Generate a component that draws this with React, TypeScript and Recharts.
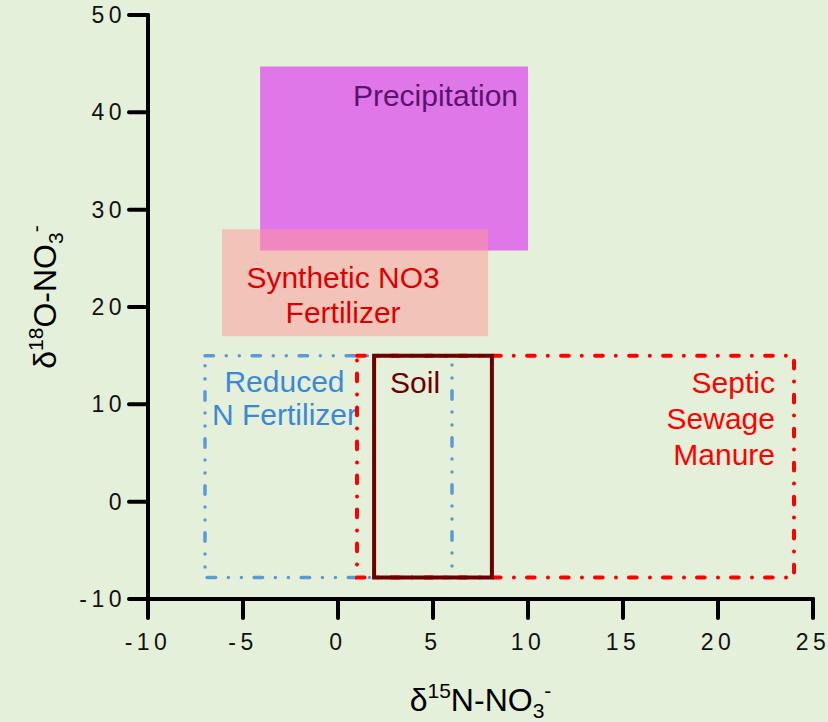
import { ScatterChart, XAxis, YAxis, ReferenceArea } from "recharts";

const sourceNames = ["Precipitation", "Synthetic NO3 Fertilizer", "Reduced N Fertilizer", "Soil", "Septic Sewage Manure"];
const labelLines = [
  ["Precipitation"],
  ["Synthetic NO3", "Fertilizer"],
  ["Reduced", "N Fertilizer"],
  ["Soil"],
  ["Septic", "Sewage", "Manure"],
];
const n15Min = [-4.1, -6.1, -7, 1.9, 1];
const n15Max = [10, 7.9, 6, 8.1, 24];
const o18Min = [25.8, 17, -7.8, -7.8, -7.8];
const o18Max = [44.7, 28, 15, 15, 15];

const xTicks = [-10, -5, 0, 5, 10, 15, 20, 25];
const yTicks = [-10, 0, 10, 20, 30, 40, 50];

const FONT = "'Liberation Sans', Arial, sans-serif";
const BG = "#e5f0da";

// drawing styles per source, same order as sourceNames
const STYLES = [
  { fill: "#e077e8", fillOpacity: 1, stroke: "none", text: "#5b1370", anchor: "end", dx: -10, dy: 39, gap: 36 },
  { fill: "#ff9898", fillOpacity: 0.5, stroke: "none", text: "#dd0000", anchor: "middle", dx: -12, dy: 59, gap: 35 },
  { fill: "none", stroke: "#5b9bd5", strokeWidth: 3.5, dash: "8.5 12.75 0.01 13 0.01 12.75", text: "#3d88d6", anchor: "middle", dx: -44, dy: 36, gap: 33.5 },
  { fill: "none", stroke: "#6b0000", strokeWidth: 4, dash: undefined, text: "#6b0000", anchor: "start", dx: 16, dy: 37.5, gap: 36 },
  { fill: "none", stroke: "#ff0000", strokeWidth: 4, dash: "7.7 13 0.01 13.3", text: "#ff0000", anchor: "end", dx: -19, dy: 37, gap: 36 },
];
// draw order: fills first, then reduced, septic, soil
const ORDER = [0, 1, 2, 4, 3];

const AreaLabel = (props: any) => {
  const { viewBox, lines, color, anchor, dx, dy, gap } = props;
  if (!viewBox) return null;
  const { x, y, width } = viewBox;
  const tx = anchor === "end" ? x + width + dx : anchor === "middle" ? x + width / 2 + dx : x + dx;
  return (
    <text x={tx} y={y + dy} fill={color} fontSize={30} fontFamily={FONT} textAnchor={anchor}>
      {lines.map((l: string, i: number) => (
        <tspan key={i} x={tx} dy={i === 0 ? 0 : gap}>
          {l}
        </tspan>
      ))}
    </text>
  );
};

const XTitle = (props: any) => {
  const { viewBox } = props;
  if (!viewBox) return null;
  const cx = viewBox.x + viewBox.width / 2;
  return (
    <text x={cx} y={viewBox.y + 112} textAnchor="middle" fontSize={32} fontFamily={FONT} fill="#000">
      δ<tspan fontSize={21} dy={-13}>15</tspan>
      <tspan dy={13}>N-NO</tspan>
      <tspan fontSize={21} dy={7}>3</tspan>
      <tspan fontSize={21} dy={-20}>-</tspan>
    </text>
  );
};

const YTitle = (props: any) => {
  const { viewBox } = props;
  if (!viewBox) return null;
  const cy = viewBox.y + viewBox.height / 2 - 10;
  return (
    <text transform={`translate(56, ${cy}) rotate(-90)`} textAnchor="middle" fontSize={32} fontFamily={FONT} fill="#000">
      δ<tspan fontSize={21} dy={-13}>18</tspan>
      <tspan dy={13}>O-NO</tspan>
      <tspan fontSize={21} dy={7}>3</tspan>
      <tspan fontSize={21} dy={-20}>-</tspan>
    </text>
  );
};

const tickStyle = { fill: "#111", fontSize: 23, fontFamily: FONT, letterSpacing: 4.5 };
const lineStyle = { stroke: "#000", strokeWidth: 4, strokeLinecap: "round" as const };

export default function App() {
  return (
    <div style={{ position: "absolute", left: 0, top: 0, width: 828, height: 722, background: BG }}>
      <ScatterChart width={828} height={722} margin={{ top: 15, right: 15, bottom: 0, left: 0 }}>
        <XAxis
          type="number"
          dataKey="x"
          domain={[-10, 25]}
          ticks={xTicks}
          interval={0}
          allowDataOverflow
          height={123}
          axisLine={lineStyle}
          tickLine={lineStyle}
          tickSize={19}
          tickMargin={16}
          tick={tickStyle}
          label={<XTitle />}
        />
        <YAxis
          type="number"
          dataKey="y"
          domain={[-10, 50]}
          ticks={yTicks}
          interval={0}
          allowDataOverflow
          width={148}
          axisLine={lineStyle}
          tickLine={lineStyle}
          tickSize={19}
          tickMargin={3}
          tick={tickStyle}
          label={<YTitle />}
        />
        {ORDER.map((i) => {
          const s = STYLES[i];
          return (
            <ReferenceArea
              key={sourceNames[i]}
              x1={n15Min[i]}
              x2={n15Max[i]}
              y1={o18Min[i]}
              y2={o18Max[i]}
              fill={s.fill}
              fillOpacity={s.fill === "none" ? 0 : s.fillOpacity}
              stroke={s.stroke}
              strokeWidth={s.strokeWidth}
              strokeDasharray={s.dash}
              strokeLinecap="round"
              ifOverflow="visible"
              label={
                <AreaLabel lines={labelLines[i]} color={s.text} anchor={s.anchor} dx={s.dx} dy={s.dy} gap={s.gap} />
              }
            />
          );
        })}
      </ScatterChart>
    </div>
  );
}
